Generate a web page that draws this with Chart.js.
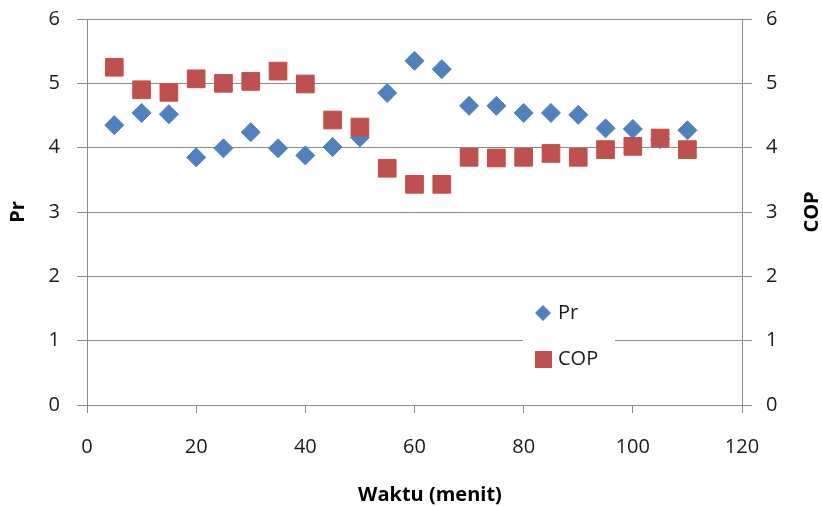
<!DOCTYPE html>
<html>
<head>
<meta charset="utf-8">
<script src="https://cdn.jsdelivr.net/npm/chart.js@4.4.0/dist/chart.umd.min.js"></script>
<style>
  html, body { margin: 0; padding: 0; background: #fff; }
  #wrap { width: 822px; height: 506px; }
</style>
</head>
<body>
<div id="wrap"><canvas id="myChart" width="822" height="506"></canvas></div>
<script>
// data
const waktu = [5, 10, 15, 20, 25, 30, 35, 40, 45, 50, 55, 60, 65, 70, 75, 80, 85, 90, 95, 100, 105, 110];
const prValues = [4.35, 4.54, 4.52, 3.85, 3.99, 4.24, 3.99, 3.88, 4.01, 4.16, 4.85, 5.35, 5.22, 4.65, 4.65, 4.54, 4.54, 4.51, 4.30, 4.29, 4.13, 4.27];
const copValues = [5.25, 4.90, 4.86, 5.07, 5.00, 5.03, 5.19, 4.99, 4.43, 4.32, 3.68, 3.43, 3.43, 3.85, 3.84, 3.85, 3.91, 3.85, 3.97, 4.02, 4.15, 3.97];
const seriesNames = ['Pr', 'COP'];
const xTitle = 'Waktu (menit)';
const yTitle = 'Pr';
const y2Title = 'COP';

const blue = '#4F81BD';
const red = '#C0504D';
const gridGrey = '#8a8a8a';
const tickFont = { family: '"Open Sans"', size: 20 };

// Excel style titles (both vertical ones read bottom to top)
const axisTitles = {
    id: 'axisTitles',
    afterDraw(chart) {
        const ctx = chart.ctx;
        const area = chart.chartArea;
        const midY = (area.top + area.bottom) / 2;
        ctx.save();
        ctx.fillStyle = '#000';
        ctx.font = 'bold 20px "Open Sans"';
        ctx.textAlign = 'center';
        ctx.textBaseline = 'middle';
        ctx.fillText(xTitle, 430, 495);
        ctx.translate(18, midY);
        ctx.rotate(-Math.PI / 2);
        ctx.fillText(yTitle, 0, 0);
        ctx.restore();
        ctx.save();
        ctx.fillStyle = '#000';
        ctx.font = 'bold 20px "Open Sans"';
        ctx.textAlign = 'center';
        ctx.textBaseline = 'middle';
        ctx.translate(812, midY);
        ctx.rotate(-Math.PI / 2);
        ctx.fillText(y2Title, 0, 0);
        ctx.restore();
    }
};

// legend sits inside the plot area, over the gridline
const innerLegend = {
    id: 'innerLegend',
    beforeDatasetsDraw(chart) {
        const ctx = chart.ctx;
        ctx.save();
        ctx.fillStyle = '#fff';
        ctx.fillRect(523, 292, 92, 86);
        ctx.restore();
    },
    afterDatasetsDraw(chart) {
        const ctx = chart.ctx;
        const ds = chart.data.datasets;
        ctx.save();
        // diamond
        ctx.fillStyle = ds[0].backgroundColor;
        ctx.beginPath();
        ctx.moveTo(543, 305);
        ctx.lineTo(551, 313);
        ctx.lineTo(543, 321);
        ctx.lineTo(535, 313);
        ctx.closePath();
        ctx.fill();
        // square
        ctx.fillStyle = ds[1].backgroundColor;
        ctx.fillRect(535, 351, 17, 17);
        ctx.fillStyle = '#1a1a1a';
        ctx.font = '20px "Open Sans"';
        ctx.textAlign = 'left';
        ctx.textBaseline = 'middle';
        ctx.fillText(ds[0].label, 558, 313);
        ctx.fillText(ds[1].label, 558, 359);
        ctx.restore();
    }
};

const ctx = document.getElementById('myChart').getContext('2d');
const myChart = new Chart(ctx, {
    type: 'scatter',
    data: {
        datasets: [
            {
                label: seriesNames[0],
                data: waktu.map((w, i) => ({ x: w, y: prValues[i] })),
                yAxisID: 'y',
                pointStyle: 'rectRot',
                pointRadius: 9.5,
                pointHoverRadius: 9.5,
                backgroundColor: blue,
                borderColor: blue,
                borderWidth: 1,
                order: 2,
            },
            {
                label: seriesNames[1],
                data: waktu.map((w, i) => ({ x: w, y: copValues[i] })),
                yAxisID: 'y2',
                pointStyle: 'rect',
                pointRadius: 12.5,
                pointHoverRadius: 12.5,
                backgroundColor: red,
                borderColor: red,
                borderWidth: 1,
                order: 1,
            },
        ],
    },
    options: {
        responsive: false,
        animation: false,
        devicePixelRatio: 1,
        layout: { padding: { top: 19, left: 0, right: 0, bottom: 0 } },
        plugins: {
            legend: { display: false },
            tooltip: { enabled: false },
        },
        scales: {
            x: {
                type: 'linear',
                position: 'bottom',
                min: 0,
                max: 120,
                ticks: { stepSize: 20, font: tickFont, color: '#1a1a1a', padding: 22, maxRotation: 0 },
                grid: { drawOnChartArea: false, drawTicks: true, tickLength: 8, color: gridGrey },
                border: { color: gridGrey },
                afterFit: (scale) => { scale.height = 101; },
            },
            y: {
                type: 'linear',
                position: 'left',
                min: 0,
                max: 6,
                ticks: { stepSize: 1, font: tickFont, color: '#1a1a1a', padding: 17 },
                grid: { color: gridGrey, tickLength: 10 },
                border: { color: gridGrey },
                afterFit: (scale) => { scale.width = 87; scale.paddingTop = 0; scale.paddingBottom = 0; },
            },
            y2: {
                type: 'linear',
                position: 'right',
                min: 0,
                max: 6,
                ticks: { stepSize: 1, font: tickFont, color: '#1a1a1a', padding: 14 },
                grid: { drawOnChartArea: false, tickLength: 10, color: gridGrey },
                border: { color: gridGrey },
                afterFit: (scale) => { scale.width = 80; scale.paddingTop = 0; scale.paddingBottom = 0; },
            },
        },
    },
    plugins: [innerLegend, axisTitles],
});
</script>
</body>
</html>
